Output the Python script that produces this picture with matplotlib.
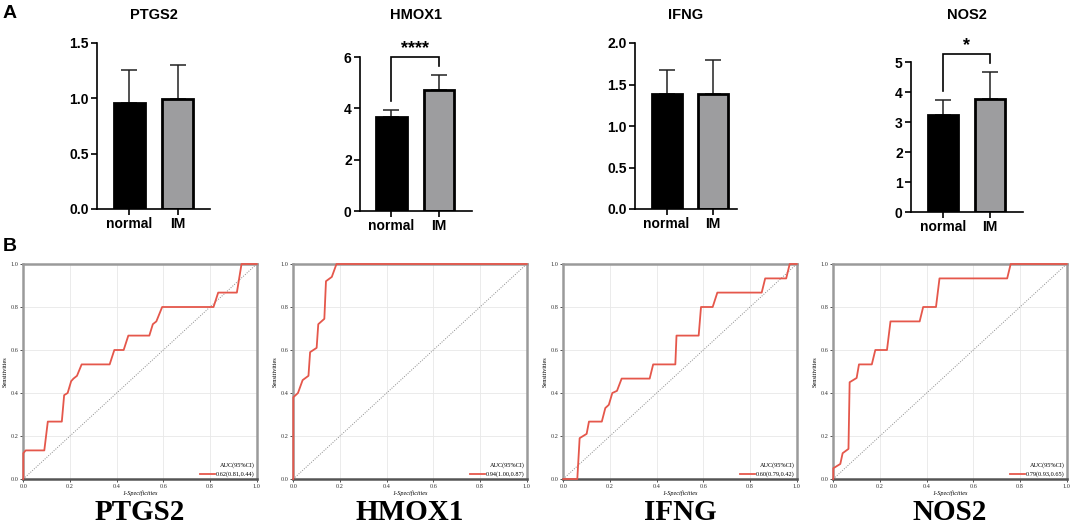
import matplotlib
matplotlib.use('Agg')
import matplotlib.pyplot as plt

# ---------------- data ----------------
genes = ['PTGS2', 'HMOX1', 'IFNG', 'NOS2']
groups = ['normal', 'IM']
normal_mean = [0.96, 3.67, 1.38, 3.23]
normal_sd = [0.30, 0.26, 0.29, 0.50]
im_mean = [0.995, 4.71, 1.39, 3.77]
im_sd = [0.31, 0.59, 0.40, 0.89]
y_max = [1.5, 6, 2.0, 5]
y_ticks = [[0, 0.5, 1.0, 1.5], [0, 2, 4, 6], [0, 0.5, 1.0, 1.5, 2.0], [0, 1, 2, 3, 4, 5]]
tick_fmt = ['{:.1f}', '{:.0f}', '{:.1f}', '{:.0f}']
signif = ['', '****', '', '*']

ptgs2_fpr = [0.00, 0.00, 0.01, 0.09, 0.105, 0.165, 0.175, 0.19, 0.205, 0.215, 0.23, 0.25, 0.37, 0.39,
             0.43, 0.45, 0.54, 0.555, 0.57, 0.595, 0.815, 0.835, 0.915, 0.935, 1.00]
ptgs2_tpr = [0.00, 0.12, 0.133, 0.133, 0.267, 0.267, 0.39, 0.40, 0.455, 0.467, 0.48, 0.533, 0.533, 0.60,
             0.60, 0.667, 0.667, 0.72, 0.733, 0.80, 0.80, 0.867, 0.867, 1.00, 1.00]
hmox1_fpr = [0.00, 0.00, 0.02, 0.04, 0.065, 0.072, 0.10, 0.107, 0.133, 0.14, 0.165, 0.185, 1.00]
hmox1_tpr = [0.00, 0.38, 0.40, 0.46, 0.48, 0.59, 0.61, 0.72, 0.745, 0.92, 0.94, 1.00, 1.00]
ifng_fpr = [0.00, 0.06, 0.07, 0.10, 0.11, 0.165, 0.18, 0.195, 0.21, 0.23, 0.25, 0.37, 0.385, 0.48,
            0.485, 0.58, 0.59, 0.64, 0.66, 0.85, 0.865, 0.955, 0.97, 1.00]
ifng_tpr = [0.00, 0.00, 0.19, 0.21, 0.267, 0.267, 0.33, 0.345, 0.40, 0.41, 0.467, 0.467, 0.533, 0.533,
            0.667, 0.667, 0.80, 0.80, 0.867, 0.867, 0.933, 0.933, 1.00, 1.00]
nos2_fpr = [0.00, 0.00, 0.03, 0.04, 0.065, 0.07, 0.10, 0.11, 0.165, 0.18, 0.23, 0.245, 0.37, 0.385,
            0.44, 0.455, 0.745, 0.76, 1.00]
nos2_tpr = [0.00, 0.05, 0.07, 0.12, 0.14, 0.45, 0.47, 0.533, 0.533, 0.60, 0.60, 0.733, 0.733, 0.80,
            0.80, 0.933, 0.933, 1.00, 1.00]
roc_fpr = [ptgs2_fpr, hmox1_fpr, ifng_fpr, nos2_fpr]
roc_tpr = [ptgs2_tpr, hmox1_tpr, ifng_tpr, nos2_tpr]
auc_labels = ['0.62(0.81,0.44)', '0.94(1.00,0.87)', '0.60(0.79,0.42)', '0.79(0.93,0.65)']
roc_ticks = [0.0, 0.2, 0.4, 0.6, 0.8, 1.0]

# ---------------- layout ----------------
W, H = 1072, 525
fig = plt.figure(figsize=(W / 100, H / 100), dpi=100)

def px_axes(l, t, r, b):
    return fig.add_axes([l / W, 1 - b / H, (r - l) / W, (b - t) / H])

SANS = 'Liberation Sans'
SERIF = 'Liberation Serif'

bar_boxes = [(97, 43, 210, 209), (360, 57, 472, 211), (635, 43, 737, 209), (911, 62, 1023, 212)]
bar_xlims = [(-0.677, 1.677), (-0.663, 1.695), (-0.685, 1.53), (-0.68, 1.70)]

for i, g in enumerate(genes):
    l, t, r, b = bar_boxes[i]
    ax = px_axes(l, t, r, b)
    means = [normal_mean[i], im_mean[i]]
    sds = [normal_sd[i], im_sd[i]]
    ax.errorbar([0, 1], means, yerr=[[0, 0], sds], fmt='none', ecolor='#222222',
                elinewidth=1.1, capsize=6, capthick=1.1, zorder=1)
    ax.bar([0, 1], means, width=0.65, color=['black', '#9d9d9f'], edgecolor='black',
           linewidth=2.0, zorder=2)
    ax.set_xlim(*bar_xlims[i])
    ax.set_ylim(0, y_max[i])
    ax.set_yticks(y_ticks[i])
    ax.set_yticklabels([tick_fmt[i].format(v) for v in y_ticks[i]])
    ax.set_xticks([0, 1])
    ax.set_xticklabels(groups)
    for s in ['top', 'right']:
        ax.spines[s].set_visible(False)
    for s in ['left', 'bottom']:
        ax.spines[s].set_linewidth(1.2)
    ax.tick_params(axis='both', length=4, width=1.2, labelsize=10, pad=2)
    for lab in ax.get_xticklabels() + ax.get_yticklabels():
        lab.set_fontfamily(SANS)
        lab.set_fontweight('bold')
    fig.text((l + r) / 2 / W, 1 - 15 / H, g, ha='center', va='center',
             fontsize=10.5, fontweight='bold', family=SANS)
    if signif[i]:
        ppu = (b - t) / y_max[i]
        tops = [means[0] + sds[0], means[1] + sds[1]]
        gap = 9 / ppu
        top = max(tops) + 18 / ppu
        ax.plot([0, 0, 1, 1], [tops[0] + gap, top, top, tops[1] + gap], color='black',
                lw=1.2, clip_on=False, solid_joinstyle='miter')
        ax.annotate(signif[i], xy=(0.5, top), xytext=(0, 6), textcoords='offset points',
                    ha='center', va='center', fontsize=13, fontweight='bold', family=SANS,
                    annotation_clip=False)

fig.text(3 / W, 1 - 14 / H, 'A', ha='left', va='center', fontsize=14, fontweight='bold', family=SANS)
fig.text(3 / W, 1 - 246 / H, 'B', ha='left', va='center', fontsize=14, fontweight='bold', family=SANS)

roc_lefts = [23.3, 293.3, 563.3, 833.3]
for i, g in enumerate(genes):
    l = roc_lefts[i]
    ax = px_axes(l, 264, l + 233.4, 479)
    ax.grid(True, color='#e8e8e8', lw=0.6)
    ax.set_axisbelow(True)
    ax.plot([0, 1], [0, 1], color='#8a8a8a', lw=0.7, ls=(0, (1, 1.5)), zorder=2)
    ax.plot(roc_fpr[i], roc_tpr[i], color='#e5574b', lw=1.3, zorder=3, label=auc_labels[i],
            clip_on=False)
    ax.set_xlim(0, 1)
    ax.set_ylim(0, 1)
    ax.set_xticks(roc_ticks)
    ax.set_yticks(roc_ticks)
    ax.set_xticklabels(['{:.1f}'.format(v) for v in roc_ticks])
    ax.set_yticklabels(['{:.1f}'.format(v) for v in roc_ticks])
    ax.tick_params(axis='both', length=2, width=0.6, labelsize=4.5, pad=1.5, colors='#333333')
    for lab in ax.get_xticklabels() + ax.get_yticklabels():
        lab.set_fontfamily(SERIF)
    for s in ax.spines.values():
        s.set_color('#9a9a9a')
        s.set_linewidth(1.8)
    ax.spines['bottom'].set_color('#555555')
    ax.set_xlabel('1-Specificities', fontsize=4.5, family=SERIF, style='italic', labelpad=1)
    ax.set_ylabel('Sensitivities', fontsize=4.5, family=SERIF, labelpad=2)
    leg = ax.legend(loc='lower right', frameon=False, fontsize=4.5, title='AUC(95%CI)',
                    title_fontsize=4.5, handlelength=2.4, handletextpad=0.2,
                    borderaxespad=0.1, borderpad=0.2)
    leg._legend_box.align = 'right'
    for txt in leg.get_texts():
        txt.set_fontfamily(SERIF)
    leg.get_title().set_fontfamily(SERIF)
    fig.text((l + 116.7) / W, 1 - 513 / H, g, ha='center', va='center',
             fontsize=21, fontweight='bold', family=SERIF)

fig.savefig('out.png', dpi=100)
